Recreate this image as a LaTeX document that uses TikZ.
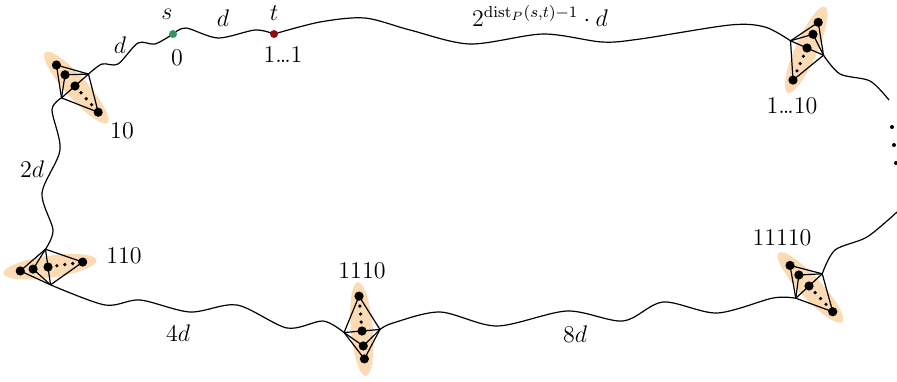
\documentclass[tikz,border=0pt]{standalone}
\usepackage{amsmath}
\definecolor{gadgetfill}{RGB}{252,218,180}
\definecolor{sgreen}{RGB}{52,150,100}
\definecolor{tred}{RGB}{150,10,10}
\tikzset{
  dot/.style={circle,fill=black,inner sep=0pt,minimum size=4.6pt},
  smalldot/.style={circle,fill=black,inner sep=0pt,minimum size=1.8pt},
  lbl/.style={font=\large,inner sep=1pt},
  gadget/.pic={
    \fill[gadgetfill] (2,0) ellipse[x radius=47,y radius=11];
    \coordinate (-a) at (0,18);
    \coordinate (-b) at (0,-18);
    \node[dot] (-1) at (-28,0) {};
    \node[dot] (-2) at (-15,0) {};
    \node[dot] (-3) at (0,0) {};
    \node[dot] (-4) at (35,0) {};
    \foreach \i in {1,...,4}
      \draw (-a)--(-\i.center) (-b)--(-\i.center);
    \foreach \p [count=\k] in {9,17,25}
      \node[smalldot] (-s\k) at (\p,0) {};
  }
}

\begin{document}
\begin{tikzpicture}[x=0.5pt,y=-0.5pt,line width=0.6pt]
\useasboundingbox (0,0) rectangle (897,381);
% gadgets
\pic[rotate=-48.5] (A) at (75,86) {gadget};
\pic[rotate=-113.6] (B) at (807,48) {gadget};
\pic[rotate=8.1] (C) at (48,267) {gadget};
\pic[rotate=94.9] (D) at (362,331) {gadget};
\pic[rotate=-47.3] (E) at (809,286) {gadget};
\coordinate (s) at (173,34);
\coordinate (t) at (274,34);
\coordinate (gapTop) at (889,100);
\coordinate (gapBot) at (897,212);
% wavy paths
\draw plot[smooth] coordinates {(A-b) (102,64) (118,64) (138,43) (155,44) (s)};
\draw plot[smooth] coordinates {(s) (186,28) (218,38) (255,30) (t)};
\draw plot[smooth] coordinates {(t) (320,22) (365,18) (410,30) (470,44) (543,34) (602,42) (640,39) (730,25) (765,27) (B-a)};
\draw plot[smooth] coordinates {(B-b) (840,74) (870,81) (gapTop)};
\draw plot[smooth] coordinates {(gapBot) (867,237) (835,250) (E-b)};
\draw plot[smooth] coordinates {(E-a) (773,298) (717,313) (663,302) (623,321) (567,311) (497,326) (440,312) (393,323) (D-a)};
\draw plot[smooth] coordinates {(D-b) (323,321) (287,328) (237,305) (190,312) (140,300) (105,305) (C-a)};
\draw plot[smooth] coordinates {(C-b) (53,230) (42,193) (60,150) (52,110) (A-a)};
\node[dot,fill=sgreen,minimum size=4pt] (sdot) at (s) {};
\node[dot,fill=tred,minimum size=4pt] (tdot) at (t) {};
\foreach \x/\y [count=\k] in {892/127,894/145,896/163}
  \node[smalldot,minimum size=2pt] (vd\k) at (\x,\y) {};
% labels
\node[lbl] (ldA) at (120,45) {$d$};
\node[lbl] (ls) at (167,14) {$s$};
\node[lbl] (l0) at (177,58) {0};
\node[lbl] (ldst) at (223,18) {$d$};
\node[lbl] (lt) at (274,13) {$t$};
\node[lbl] (lt1) at (283,55) {1\dots1};
\node[lbl] (lexp) at (540,16) {$2^{\mathrm{dist}_P(s,t)-1}\cdot d$};
\node[lbl] (lA) at (122,131) {10};
\node[lbl] (lB) at (792,106) {1\dots10};
\node[lbl] (lC) at (124,256) {110};
\node[lbl] (lD) at (362,271) {1110};
\node[lbl] (lE) at (782,238) {11110};
\node[lbl] (l2d) at (32,169) {$2d$};
\node[lbl] (l4d) at (178,333) {$4d$};
\node[lbl] (l8d) at (575,334) {$8d$};
\end{tikzpicture}
\end{document}
